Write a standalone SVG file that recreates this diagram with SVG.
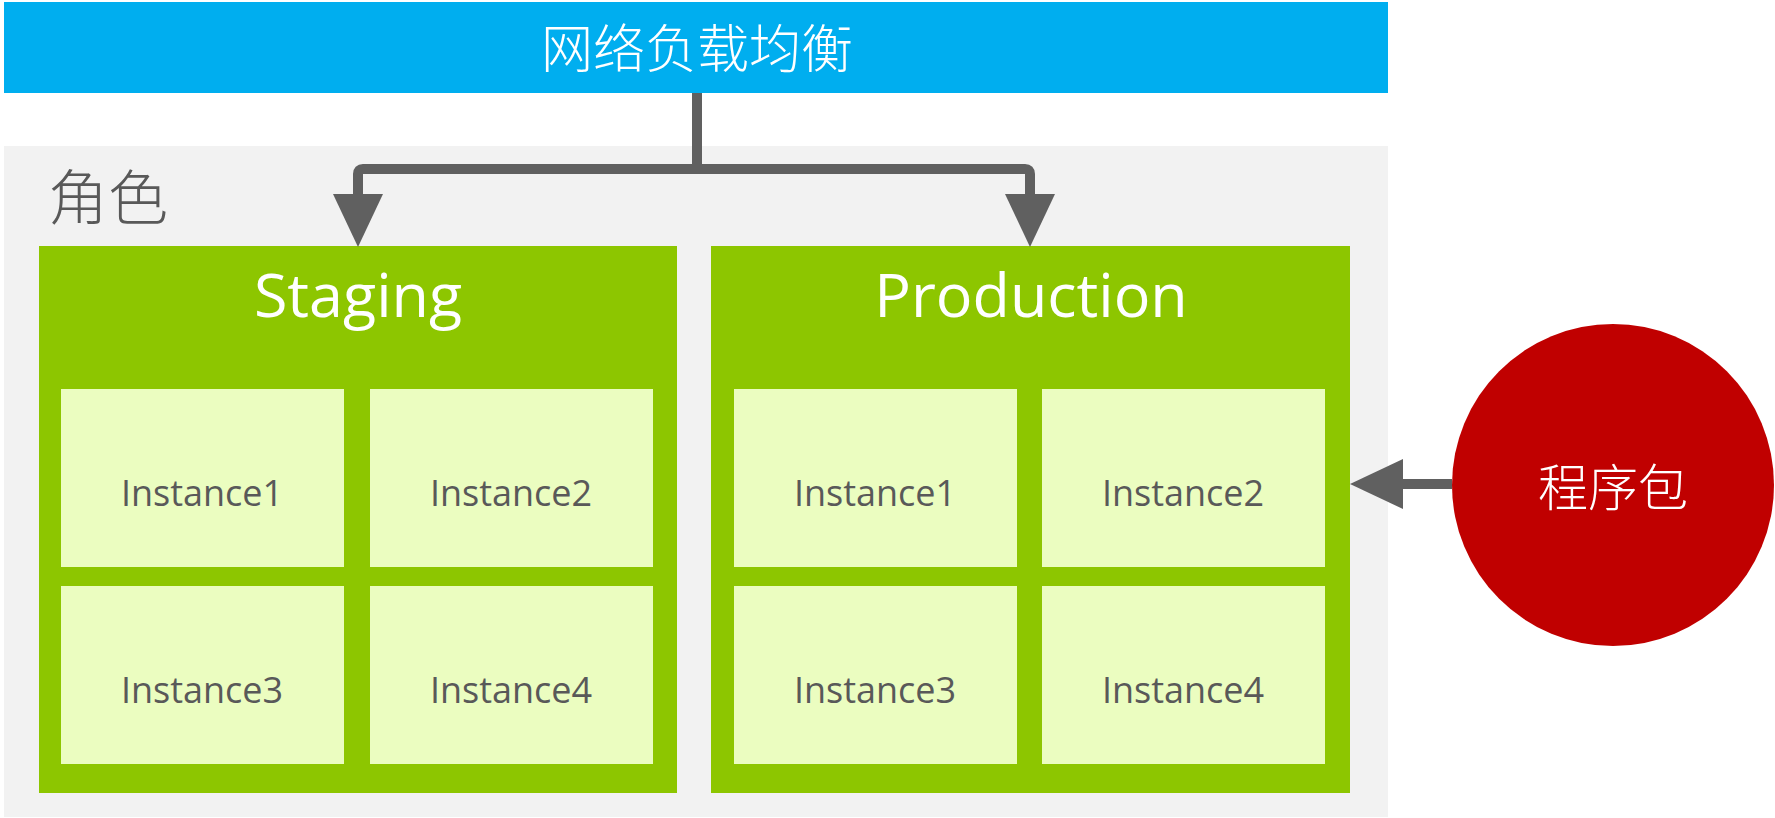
<svg xmlns="http://www.w3.org/2000/svg" width="1775" height="818" viewBox="0 0 1775 818">
<style>
.inst{fill:#EBFDC0}
.grp{fill:#8DC600}
.it{font-family:"Open Sans","Noto Sans",sans-serif;font-size:36px;fill:#595959;text-anchor:middle}
.tt{font-family:"Open Sans","Noto Sans",sans-serif;font-size:61px;fill:#FFFFFF;text-anchor:middle}
.cn{font-family:"Noto Sans CJK SC",sans-serif;text-anchor:middle}
.conn{fill:none;stroke:#606060;stroke-width:10;stroke-linejoin:round}
</style>
<defs>
<marker id="ah" viewBox="0 0 53 50" refX="0" refY="25" markerWidth="53" markerHeight="50" markerUnits="userSpaceOnUse" orient="auto">
<path d="M0,0 L53,25 L0,50 z" fill="#606060"/>
</marker>
</defs>
<rect x="0" y="0" width="1775" height="818" fill="#FFFFFF"/>
<g id="roles">
<rect x="4" y="146" width="1384" height="671" fill="#F2F2F2"/>
<text class="cn" x="108" y="220" font-size="60" font-weight="300" fill="#595959">角色</text>
</g>
<g id="lb">
<rect x="4" y="2" width="1384" height="91" fill="#00AEEF"/>
<text class="cn" x="697" y="68" font-size="52" font-weight="300" fill="#FFFFFF">网络负载均衡</text>
</g>
<g id="staging">
<rect class="grp" x="39" y="246" width="638" height="547"/>
<text class="tt" x="358" y="317">Staging</text>
<rect class="inst" x="61" y="389" width="283" height="178"/>
<text class="it" x="202" y="506">Instance1</text>
<rect class="inst" x="370" y="389" width="283" height="178"/>
<text class="it" x="511" y="506">Instance2</text>
<rect class="inst" x="61" y="586" width="283" height="178"/>
<text class="it" x="202" y="703">Instance3</text>
<rect class="inst" x="370" y="586" width="283" height="178"/>
<text class="it" x="511" y="703">Instance4</text>
</g>
<g id="production">
<rect class="grp" x="711" y="246" width="639" height="547"/>
<text class="tt" x="1031" y="317">Production</text>
<rect class="inst" x="734" y="389" width="283" height="178"/>
<text class="it" x="875" y="506">Instance1</text>
<rect class="inst" x="1042" y="389" width="283" height="178"/>
<text class="it" x="1183" y="506">Instance2</text>
<rect class="inst" x="734" y="586" width="283" height="178"/>
<text class="it" x="875" y="703">Instance3</text>
<rect class="inst" x="1042" y="586" width="283" height="178"/>
<text class="it" x="1183" y="703">Instance4</text>
</g>
<g id="package">
<circle cx="1613" cy="485" r="161" fill="#C00000"/>
<text class="cn" x="1613" y="506" font-size="50" font-weight="300" fill="#FFFFFF">程序包</text>
</g>
<g id="connectors">
<path class="conn" d="M697,93 V169 H363 Q358,169 358,174 V194" marker-end="url(#ah)"/>
<path class="conn" d="M697,169 H1025 Q1030,169 1030,174 V194" marker-end="url(#ah)"/>
<path class="conn" d="M1452,484 H1403" marker-end="url(#ah)"/>
</g>
</svg>
